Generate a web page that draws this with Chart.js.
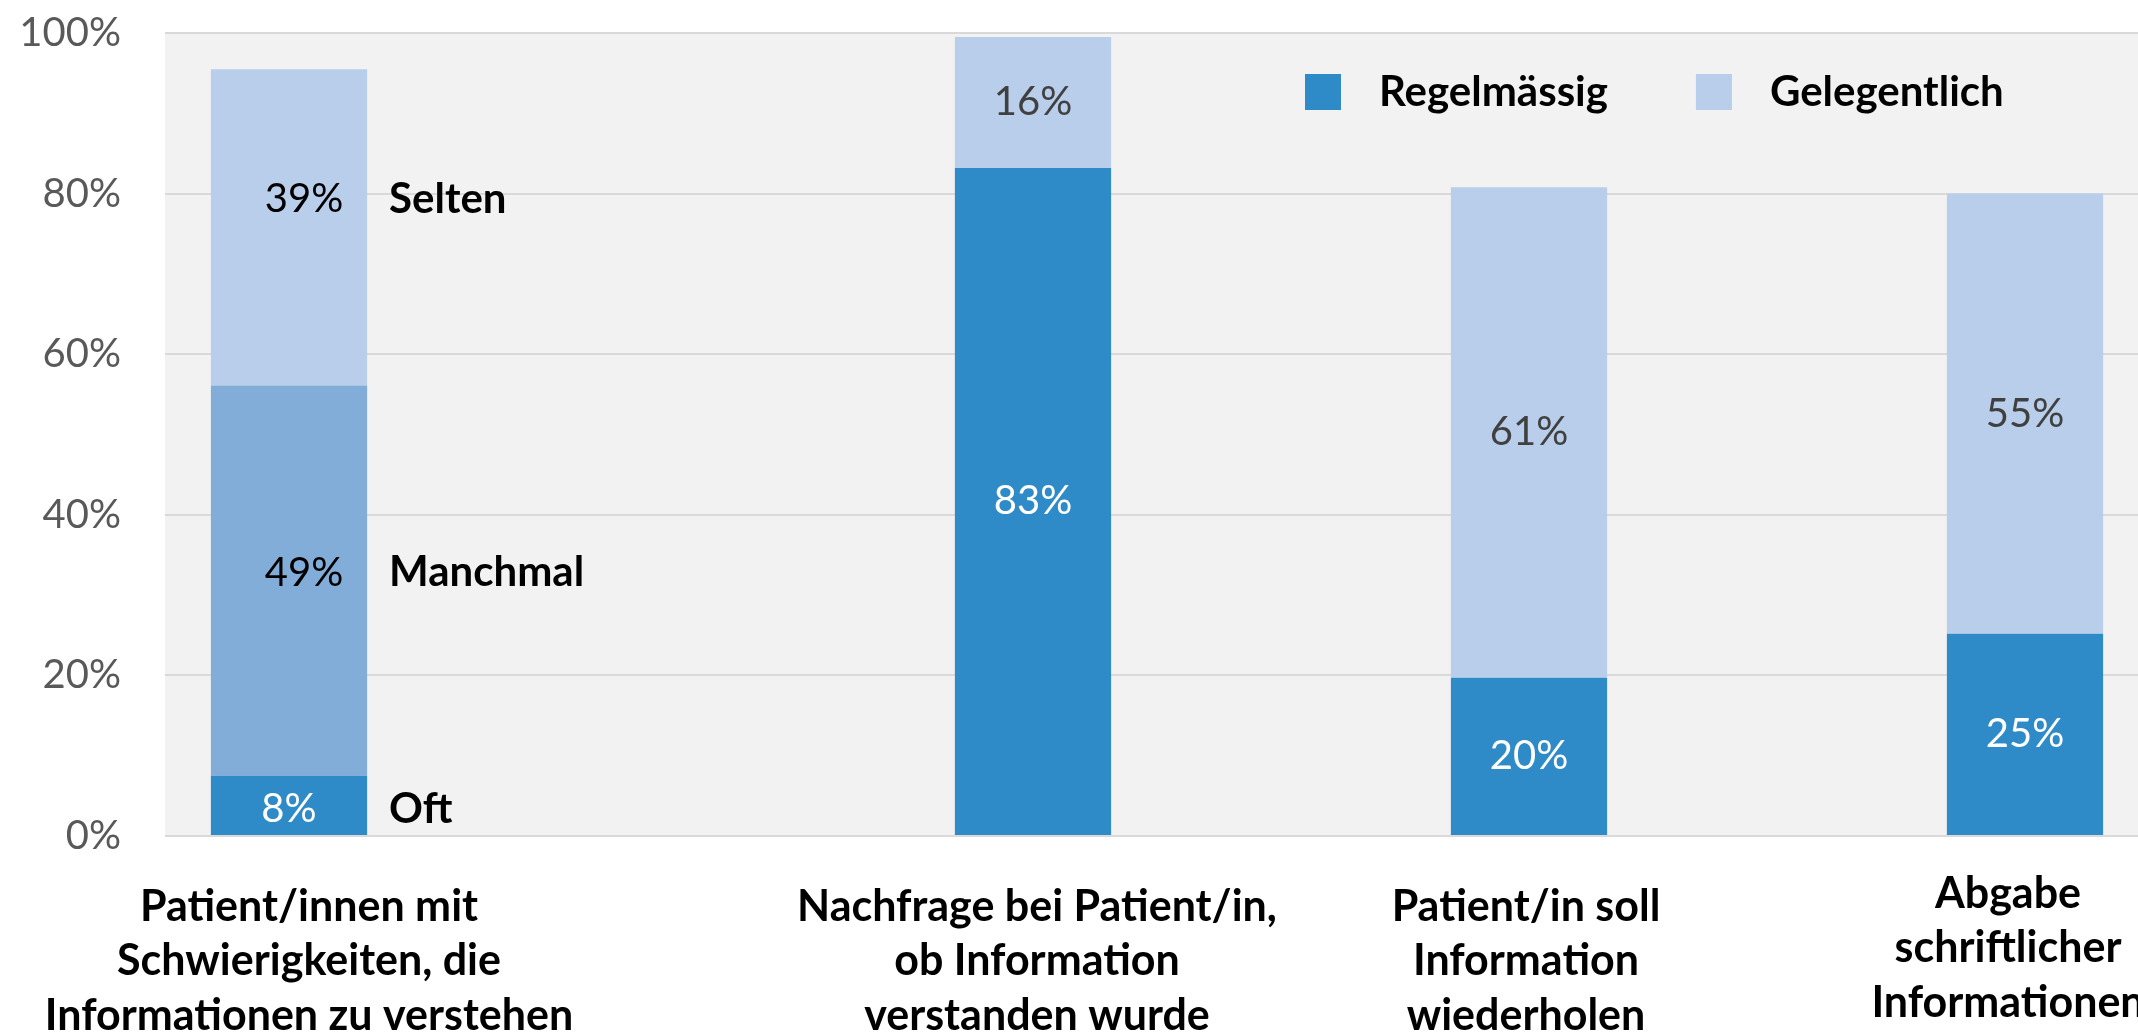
<!DOCTYPE html>
<html lang="de">
<head>
<meta charset="utf-8">
<title>Umgang mit Informationen</title>
<script src="https://cdn.jsdelivr.net/npm/chart.js@4.4.1/dist/chart.umd.min.js"></script>
<style>
  html, body { margin: 0; padding: 0; background: #fff; overflow: hidden; width: 2138px; height: 1032px; }
  #wrap { position: absolute; left: 0; top: 0; width: 2200px; height: 1032px; }
</style>
</head>
<body>
<div id="wrap"><canvas id="chart" width="2200" height="1032"></canvas></div>
<script>
// ---- Data ----
const categories = [
  ['Patient/innen mit', 'Schwierigkeiten, die', 'Informationen zu verstehen'],
  ['Nachfrage bei Patient/in,', 'ob Information', 'verstanden wurde'],
  ['Patient/in soll', 'Information', 'wiederholen'],
  ['Abgabe', 'schriftlicher', 'Informationen']
];
const regelmaessig = [7.5, 83.2, 19.7, 25.2];   // first bar: "Oft"
const manchmal     = [48.6, null, null, null];
const gelegentlich = [39.4, 16.3, 61.1, 54.8];  // first bar: "Selten"
const firstBarNames = ['Oft', 'Manchmal', 'Selten'];
const legendNames = ['Regelmässig', 'Gelegentlich'];
const yTicks = [0, 20, 40, 60, 80, 100];

// bars sit on an 8-slot category axis (wider gap after the first bar)
const slots = [0, 3, 5, 7];
const nSlots = 8;
const spread = (arr, fill) => {
  const out = Array(nSlots).fill(fill);
  slots.forEach((s, i) => { out[s] = arr[i]; });
  return out;
};

const COLORS = { dark: '#2E8BC8', mid: '#82ADD8', light: '#B8CEEA' };
const FONT = 'Lato';
Chart.defaults.font.family = FONT;

// ---- Plugins ----
const plotBg = {
  id: 'plotBg',
  beforeDraw(chart) {
    const { ctx, chartArea: a } = chart;
    ctx.save();
    ctx.fillStyle = '#F2F2F2';
    ctx.fillRect(a.left, a.top, a.right - a.left, a.bottom - a.top);
    ctx.restore();
  }
};

function labelColor(di, i) {
  if (di === 0) return '#ffffff';
  if (i === 0) return '#000000';
  return '#404040';
}
// the labels of the first bar are nudged a little, as in the original
const firstBarShift = [{ dx: 0, dy: 4 }, { dx: 15, dy: -8 }, { dx: 15, dy: -28 }];

const valueLabels = {
  id: 'valueLabels',
  afterDatasetsDraw(chart) {
    const ctx = chart.ctx;
    ctx.save();
    ctx.textBaseline = 'middle';
    chart.data.datasets.forEach((ds, di) => {
      const meta = chart.getDatasetMeta(di);
      meta.data.forEach((bar, i) => {
        const v = ds.data[i];
        if (v == null) return;
        const { x, y, base, width } = bar.getProps(['x', 'y', 'base', 'width'], true);
        const first = i === slots[0];
        const sh = first ? firstBarShift[di] : { dx: 0, dy: 0 };
        const cy = (y + base) / 2 + sh.dy;
        ctx.font = `40px ${FONT}`;
        ctx.textAlign = 'center';
        ctx.fillStyle = labelColor(di, i);
        ctx.fillText(Math.round(v) + '%', x + sh.dx, cy);
        // direct series names beside the first bar
        if (first) {
          ctx.font = `bold 42px ${FONT}`;
          ctx.textAlign = 'left';
          ctx.fillStyle = '#000000';
          ctx.fillText(firstBarNames[di], x + width / 2 + 22, cy);
        }
      });
    });
    ctx.restore();
  }
};

// category labels under the bars (outer ones pulled inwards like the original)
const catShift = [{ dx: 20, dy: 0 }, { dx: 4, dy: 0 }, { dx: -3, dy: 0 }, { dx: -17, dy: -13 }];
const catLabels = {
  id: 'catLabels',
  afterDraw(chart) {
    const { ctx, scales: { x, y } } = chart;
    const lh = 54.6;
    ctx.save();
    ctx.font = `bold 43px ${FONT}`;
    ctx.fillStyle = '#000000';
    ctx.textAlign = 'center';
    ctx.textBaseline = 'middle';
    categories.forEach((lines, i) => {
      const cx = x.getPixelForValue(slots[i]) + catShift[i].dx;
      lines.forEach((t, k) => ctx.fillText(t, cx, y.bottom + 71 + k * lh + catShift[i].dy));
    });
    ctx.restore();
  }
};

const insideLegend = {
  id: 'insideLegend',
  afterDraw(chart) {
    const ctx = chart.ctx;
    const items = [
      { text: legendNames[0], color: chart.data.datasets[0].backgroundColor },
      { text: legendNames[1], color: chart.data.datasets[2].backgroundColor }
    ];
    let x = 1305;
    const cy = 92, box = 36;
    ctx.save();
    ctx.font = `bold 42px ${FONT}`;
    ctx.textBaseline = 'middle';
    ctx.textAlign = 'left';
    items.forEach(it => {
      ctx.fillStyle = it.color;
      ctx.fillRect(x, cy - box / 2, box, box);
      ctx.fillStyle = '#000000';
      ctx.fillText(it.text, x + box + 38, cy);
      x += box + 38 + ctx.measureText(it.text).width + 88;
    });
    ctx.restore();
  }
};

// ---- Chart ----
new Chart(document.getElementById('chart'), {
  type: 'bar',
  data: {
    labels: spread(categories.map(c => c.join(' ')), ''),
    datasets: [
      { label: 'Regelmässig', data: spread(regelmaessig, null), backgroundColor: COLORS.dark },
      { label: 'Manchmal', data: spread(manchmal, null), backgroundColor: COLORS.mid },
      { label: 'Gelegentlich', data: spread(gelegentlich, null), backgroundColor: COLORS.light }
    ]
  },
  options: {
    responsive: false,
    animation: false,
    devicePixelRatio: 1,
    layout: { padding: { top: 33, right: 51, bottom: 0, left: 0 } },
    datasets: { bar: { categoryPercentage: 1, barPercentage: 0.63, borderWidth: 0 } },
    plugins: { legend: { display: false }, tooltip: { enabled: false } },
    scales: {
      x: {
        stacked: true,
        grid: { display: false, drawTicks: false },
        border: { display: false },
        ticks: { display: false },
        afterFit(scale) { scale.height = 196; scale.paddingLeft = 0; scale.paddingRight = 0; }
      },
      y: {
        stacked: true,
        min: 0, max: 100,
        grid: { color: '#D9D9D9', lineWidth: 2, drawTicks: false },
        border: { display: false },
        ticks: { color: '#595959', padding: 44, font: { size: 40 }, callback: v => v + '%' },
        afterBuildTicks(scale) { scale.ticks = yTicks.map(v => ({ value: v })); },
        afterFit(scale) { scale.width = 165; scale.paddingTop = 0; scale.paddingBottom = 0; }
      }
    }
  },
  plugins: [plotBg, valueLabels, catLabels, insideLegend]
});
</script>
</body>
</html>
